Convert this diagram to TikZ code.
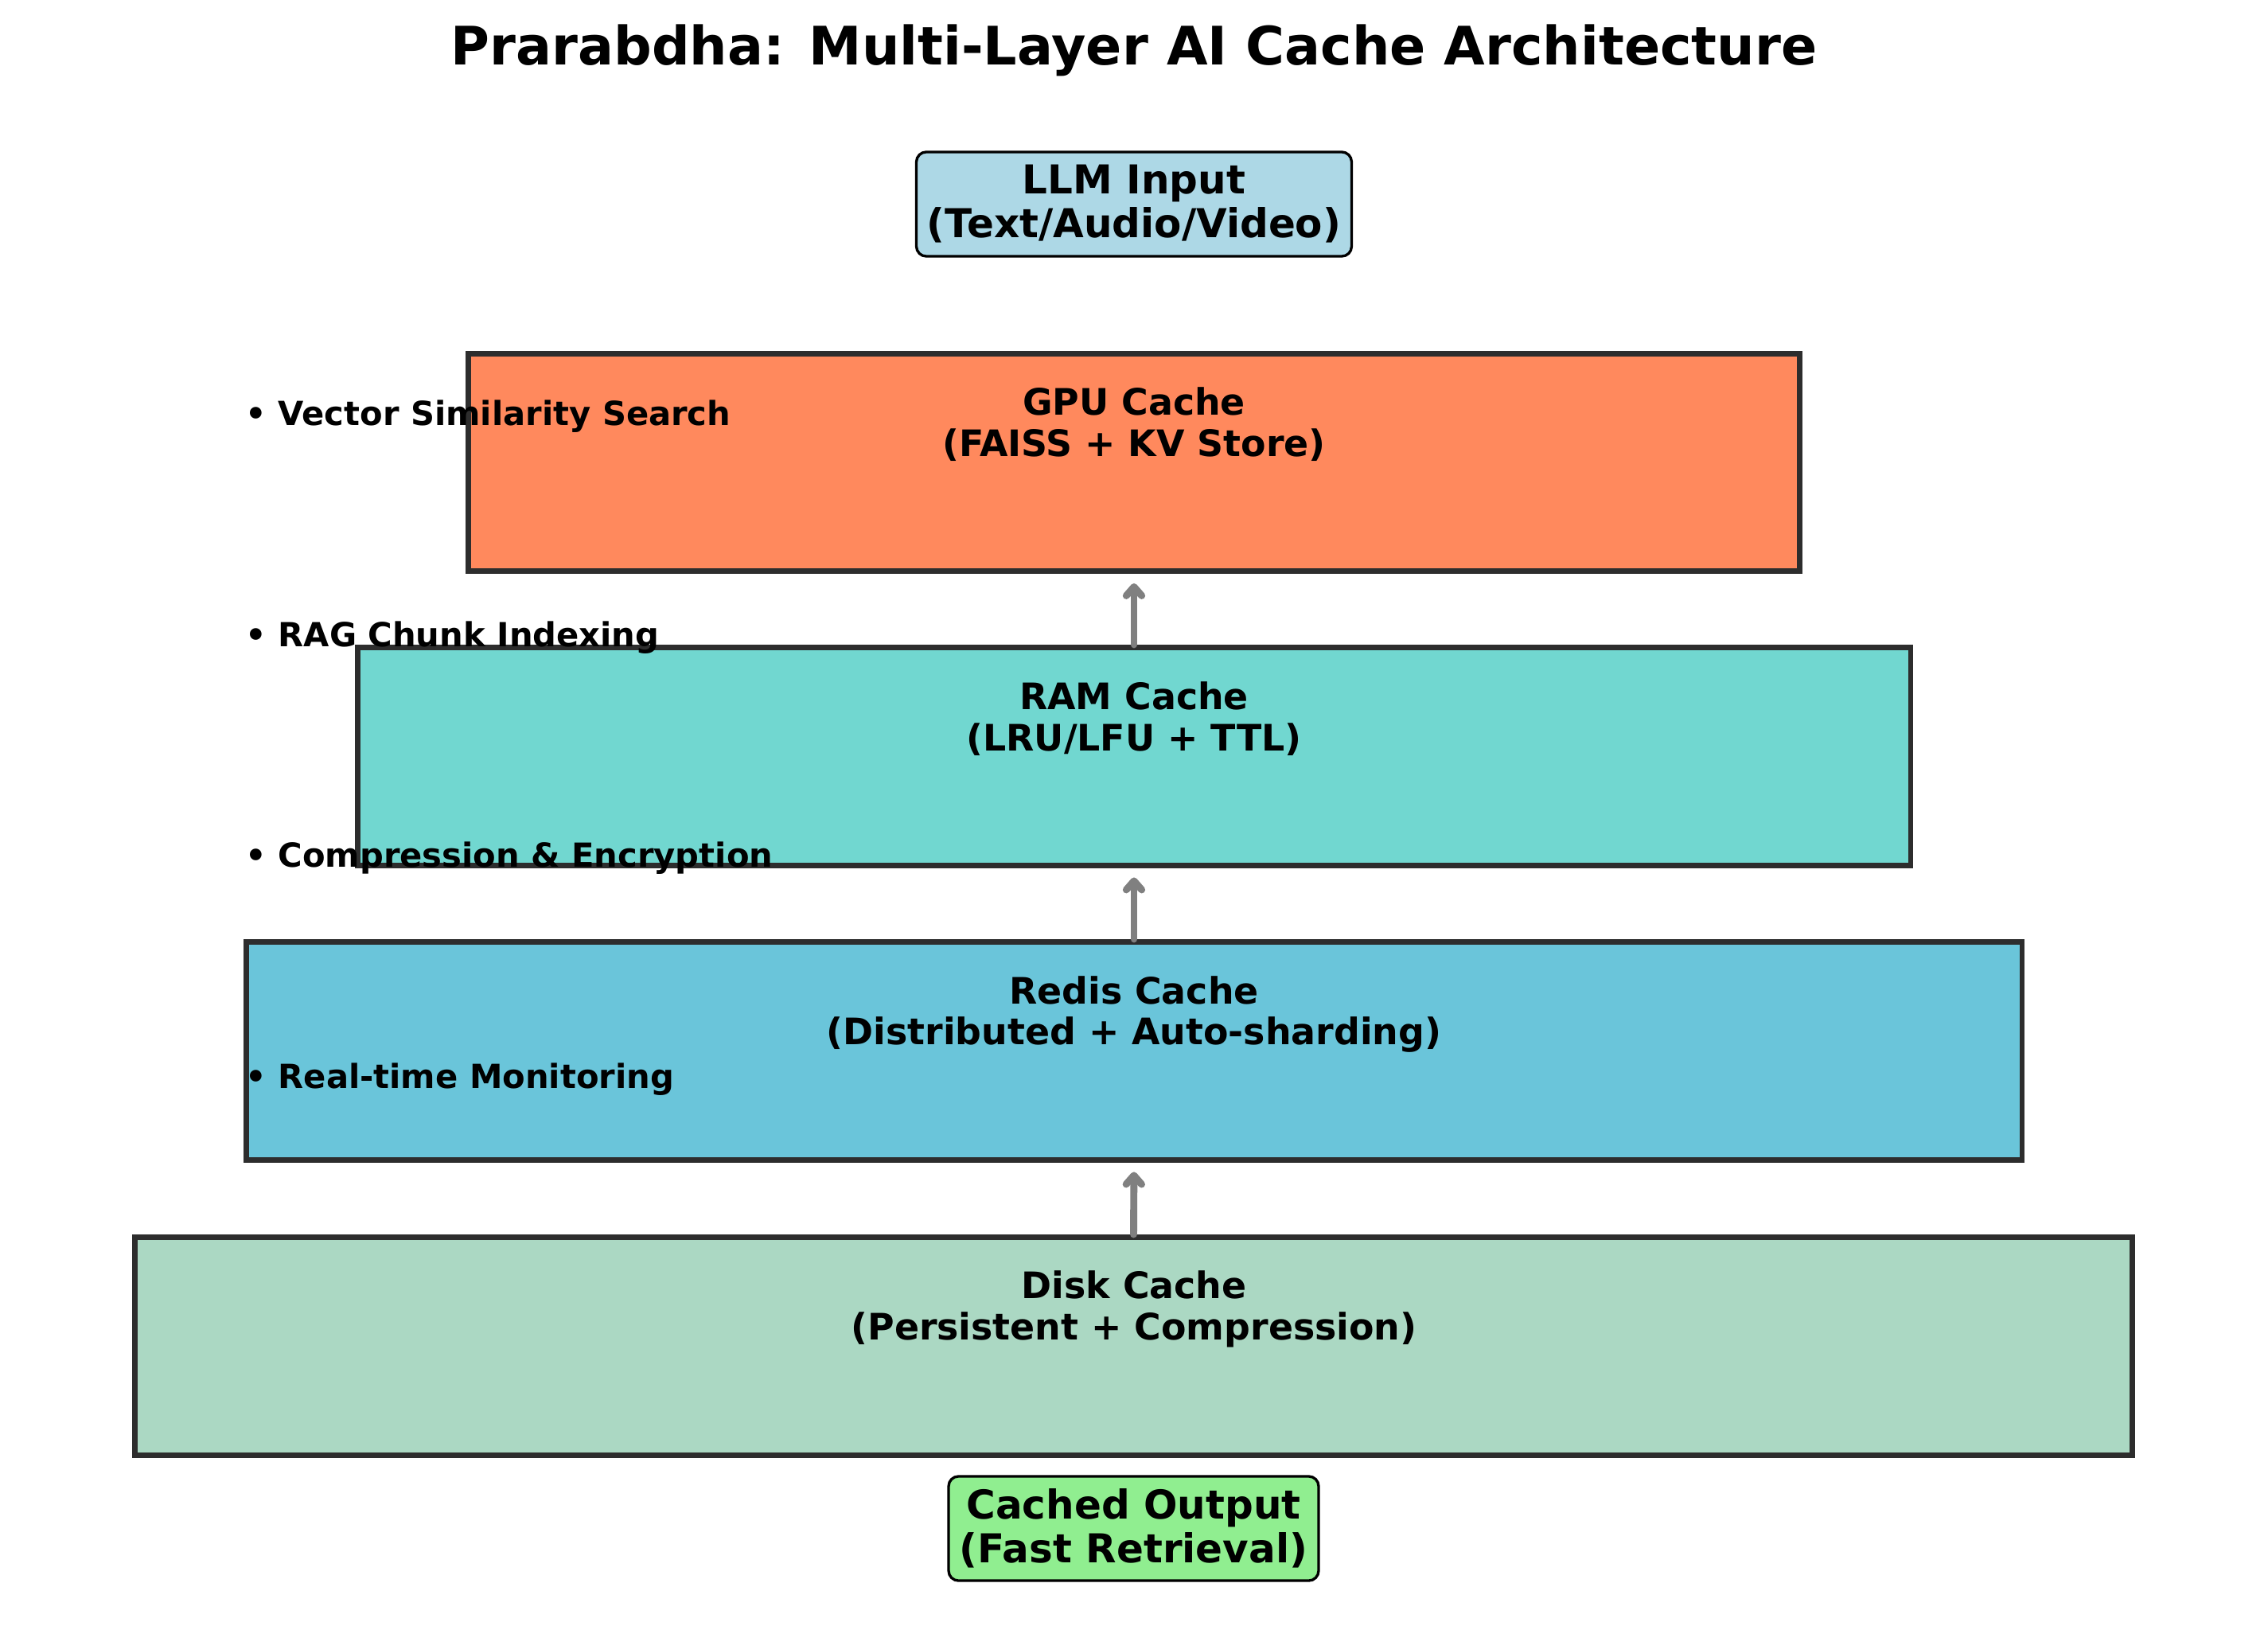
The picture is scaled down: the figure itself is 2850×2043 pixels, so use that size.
\documentclass[tikz,border=0pt]{standalone}
\usepackage{fontspec}
\setmainfont{DejaVu Sans}
\usetikzlibrary{arrows.meta}
\definecolor{gpuc}{RGB}{255,137,93}
\definecolor{ramc}{RGB}{113,215,208}
\definecolor{redisc}{RGB}{106,197,218}
\definecolor{diskc}{RGB}{171,216,195}
\definecolor{inc}{RGB}{173,216,230}
\definecolor{outc}{RGB}{144,238,144}
\definecolor{edgec}{RGB}{45,45,45}
\definecolor{arrowc}{RGB}{128,128,128}
\begin{document}
\begin{tikzpicture}[x=0.36pt,y=-0.36pt,
  layer/.style={rectangle, draw=edgec, line width=2.5pt, outer sep=0pt, inner sep=0pt, minimum height=98.6pt},
  iobox/.style={rectangle, draw=black, line width=1.2pt, rounded corners=4.5pt, inner sep=0pt, outer sep=0pt,
    minimum height=47.2pt, align=center, font=\fontsize{18}{19.8}\selectfont\bfseries},
  lbl/.style={align=center, inner sep=0pt, font=\fontsize{16.5}{18.7}\selectfont\bfseries},
  bul/.style={anchor=base west, inner sep=0pt, font=\fontsize{15}{18}\selectfont\bfseries},
  flow/.style={draw=arrowc, line width=3.2pt, line cap=round, line join=round,
    -{Straight Barb[length=4pt,width=7pt,round]}, shorten >=5.4pt, shorten <=1.3pt}]
\useasboundingbox (0,0) rectangle (2850,2043);
\fill[white] (0,0) rectangle (2850,2043);

% title
\node[anchor=base, inner sep=0pt, font=\fontsize{24}{28}\selectfont\bfseries] (title) at (1425,82)
  {Prarabdha: Multi-Layer AI Cache Architecture};

% input / output
\node[iobox, fill=inc, minimum width=196.9pt] (input) at (1425,256.5) {LLM Input\\(Text/Audio/Video)};
\node[iobox, fill=outc, minimum width=167.4pt] (output) at (1424.5,1920.5) {Cached Output\\(Fast Retrieval)};

% layers
\node[layer, fill=gpuc, minimum width=602.3pt] (gpu) at (1425,581) {};
\node[layer, fill=ramc, minimum width=702.7pt] (ram) at (1425,950.5) {};
\node[layer, fill=redisc, minimum width=803.5pt] (redis) at (1425,1320.5) {};
\node[layer, fill=diskc, minimum width=903.6pt] (disk) at (1424.5,1691.5) {};

\node[lbl] (gpuL) at (1425,533.5) {GPU Cache\\(FAISS + KV Store)};
\node[lbl] (ramL) at (1425,903.5) {RAM Cache\\(LRU/LFU + TTL)};
\node[lbl] (redisL) at (1425,1274.5) {Redis Cache\\(Distributed + Auto-sharding)};
\node[lbl] (diskL) at (1425,1645) {Disk Cache\\(Persistent + Compression)};

% arrows
\draw[flow] (ram.north) -- (gpu.south);
\draw[flow] (redis.north) -- (ram.south);
\draw[flow] (disk.north) -- (redis.south);

% bullets
\node[bul] (b1) at (308,535) {• Vector Similarity Search};
\node[bul] (b2) at (308,812) {• RAG Chunk Indexing};
\node[bul] (b3) at (308,1089.5) {• Compression \& Encryption};
\node[bul] (b4) at (308,1367) {• Real-time Monitoring};
\end{tikzpicture}
\end{document}
